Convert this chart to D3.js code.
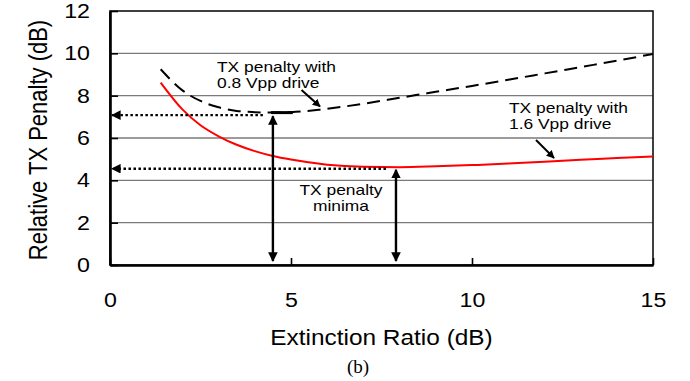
<!DOCTYPE html>
<html>
<head>
<meta charset="utf-8">
<script src="https://cdn.jsdelivr.net/npm/d3@7"></script>
<style>
  body { margin: 0; background: #fff; }
  svg text { font-family: "Liberation Sans", Arial, sans-serif; fill: #000; }
</style>
</head>
<body>
<div id="chart"></div>
<script>
// extinction ratio (dB) -> relative TX penalty (dB)
let er16 = [1.4, 2, 2.5, 3, 3.5, 4, 4.5, 5, 6, 7, 8, 9, 10, 11, 12, 13, 14, 15];
let pen16 = [8.62, 7.35, 6.6, 6.08, 5.68, 5.38, 5.15, 4.98, 4.74, 4.64, 4.62, 4.66, 4.72, 4.79, 4.88, 4.97, 5.05, 5.13];
let er08 = [1.4, 2, 2.5, 3, 3.5, 4, 4.5, 5, 5.8, 7, 8, 9, 10, 11, 12, 13, 14, 15];
let pen08 = [9.25, 8.25, 7.75, 7.45, 7.28, 7.22, 7.2, 7.22, 7.34, 7.62, 7.9, 8.18, 8.46, 8.75, 9.05, 9.35, 9.65, 9.97];
let xTicks = [0, 5, 10, 15];
let yTicks = [0, 2, 4, 6, 8, 10, 12];
// minima markers: [extinction ratio, penalty]
let minima = [[4.5, 7.08], [7.9, 4.55]];

let W = 690, H = 381;
let m = {left: 110, top: 11, right: 37, bottom: 116};
let sx = 1.16; // text in the original is a bit wide

let svg = d3.select('#chart').append('svg')
    .attr('width', W).attr('height', H);

let x = d3.scaleLinear().domain([0, 15]).range([m.left, W - m.right]);
let y = d3.scaleLinear().domain([0, 12]).range([H - m.bottom, m.top]);

let defs = svg.append('defs');
defs.append('marker')
    .attr('id', 'head')
    .attr('viewBox', '0 0 10 10')
    .attr('refX', 9).attr('refY', 5)
    .attr('markerWidth', 4).attr('markerHeight', 4)
    .attr('markerUnits', 'strokeWidth')
    .attr('orient', 'auto-start-reverse')
    .append('path').attr('d', 'M0,0 L10,5 L0,10 z').attr('fill', '#000');

// grid
svg.append('g').selectAll('line')
    .data(yTicks.filter(d => d > 0 && d < 12))
    .enter().append('line')
    .attr('x1', x(0)).attr('x2', x(15))
    .attr('y1', d => y(d)).attr('y2', d => y(d))
    .attr('stroke', '#7a7a7a').attr('stroke-width', 1.3);

// frame
svg.append('rect')
    .attr('x', x(0)).attr('y', y(12))
    .attr('width', x(15) - x(0)).attr('height', y(0) - y(12))
    .attr('fill', 'none').attr('stroke', '#111').attr('stroke-width', 1.6);

// y axis
let yAxis = svg.append('g')
    .attr('transform', 'translate(' + x(0) + ',0)')
    .call(d3.axisLeft(y).tickValues(yTicks).tickSizeInner(-8).tickSizeOuter(0).tickPadding(20));
yAxis.select('.domain').attr('stroke-width', 2.6);
yAxis.selectAll('.tick line').attr('stroke-width', 1.6);
yAxis.selectAll('.tick text')
    .attr('x', 0)
    .attr('transform', 'translate(-20,0) scale(' + sx + ',1)')
    .style('font-size', '20px');

// x axis
let xAxis = svg.append('g')
    .attr('transform', 'translate(0,' + y(0) + ')')
    .call(d3.axisBottom(x).tickValues(xTicks).tickSizeInner(-7).tickSizeOuter(0));
xAxis.select('.domain').attr('stroke-width', 2.6);
xAxis.selectAll('.tick line').attr('stroke-width', 1.6);
xAxis.selectAll('.tick text')
    .attr('y', 0).attr('dy', '0.35em')
    .attr('transform', 'translate(0,35) scale(' + sx + ',1)')
    .style('font-size', '20px');
xAxis.selectAll('path, line').attr('stroke', '#000');
yAxis.selectAll('path, line').attr('stroke', '#000');

// axis titles
svg.append('text')
    .attr('transform', 'translate(38,' + ((y(0) + y(12)) / 2 + 2) + ') rotate(-90) scale(1,' + sx + ')')
    .attr('text-anchor', 'middle').attr('dy', '0.35em')
    .style('font-size', '22px')
    .text('Relative TX Penalty (dB)');

svg.append('text')
    .attr('transform', 'translate(' + ((x(0) + x(15)) / 2) + ',337) scale(1.11,1)')
    .attr('text-anchor', 'middle').attr('dy', '0.35em')
    .style('font-size', '22px')
    .text('Extinction Ratio (dB)');

svg.append('text')
    .attr('x', 358).attr('y', 366).attr('dy', '0.35em')
    .attr('text-anchor', 'middle')
    .style('font-family', '"Liberation Serif", "Times New Roman", serif')
    .style('font-size', '19px')
    .text('(b)');

// curves
let line = d3.line().x(d => x(d[0])).y(d => y(d[1])).curve(d3.curveMonotoneX);

svg.append('path')
    .datum(d3.zip(er08, pen08))
    .attr('d', line)
    .attr('fill', 'none').attr('stroke', '#000')
    .attr('stroke-width', 2).attr('stroke-dasharray', '13,7');

svg.append('path')
    .datum(d3.zip(er16, pen16))
    .attr('d', line)
    .attr('fill', 'none').attr('stroke', '#ff0000')
    .attr('stroke-width', 2);

// minima bar on dashed curve
svg.append('line')
    .attr('x1', x(4.45)).attr('x2', x(5.05))
    .attr('y1', y(7.2)).attr('y2', y(7.2))
    .attr('stroke', '#000').attr('stroke-width', 3);

// minima arrows
minima.forEach(function (d) {
    svg.append('line')
        .attr('x1', x(d[0]) - 10).attr('x2', x(0) + 2)
        .attr('y1', y(d[1])).attr('y2', y(d[1]))
        .attr('stroke', '#000').attr('stroke-width', 2.4)
        .attr('stroke-dasharray', '2.5,2.5')
        .attr('marker-end', 'url(#head)');
    svg.append('line')
        .attr('x1', x(d[0])).attr('x2', x(d[0]))
        .attr('y1', y(d[1]) + 1).attr('y2', y(0) - 4)
        .attr('stroke', '#000').attr('stroke-width', 2.4)
        .attr('marker-start', 'url(#head)')
        .attr('marker-end', 'url(#head)');
});

// labels
function label(lines, px, py, anchor) {
    let t = svg.append('text')
        .attr('transform', 'translate(' + px + ',' + py + ') scale(' + sx + ',1)')
        .attr('text-anchor', anchor)
        .style('font-size', '15px');
    lines.forEach(function (s, i) {
        t.append('tspan').attr('x', 0).attr('y', i * 16.5).text(s);
    });
}
label(['TX penalty with', '0.8 Vpp drive'], 217, 72, 'start');
label(['TX penalty with', '1.6 Vpp drive'], 509, 112.5, 'start');
label(['TX penalty', 'minima'], 341, 195, 'middle');

// pointer arrows
let pointers = [[[301.5, 90], [320, 106.5]], [[536, 140], [554, 158]]];
pointers.forEach(function (p) {
    svg.append('line')
        .attr('x1', p[0][0]).attr('y1', p[0][1])
        .attr('x2', p[1][0]).attr('y2', p[1][1])
        .attr('stroke', '#000').attr('stroke-width', 2)
        .attr('marker-end', 'url(#head)');
});
</script>
</body>
</html>
